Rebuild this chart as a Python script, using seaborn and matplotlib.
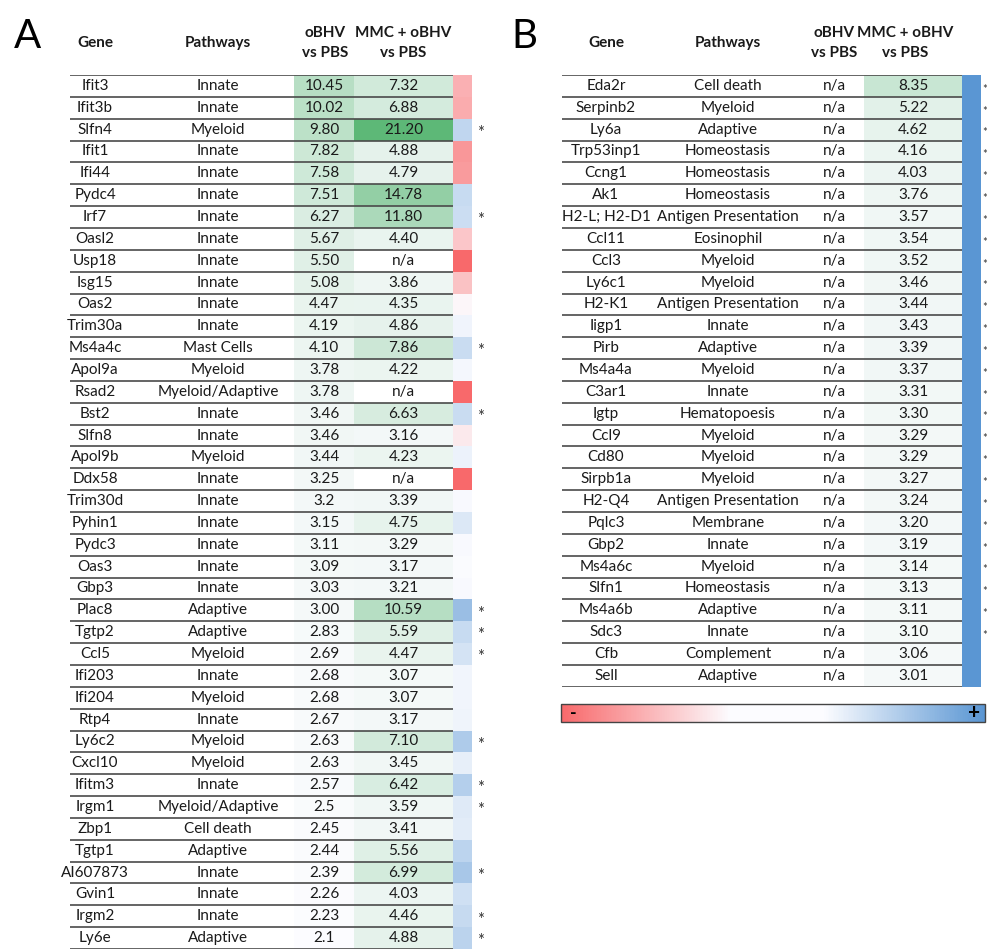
import numpy as np
import pandas as pd
import seaborn as sns
import matplotlib
matplotlib.use("Agg")
import matplotlib.pyplot as plt
from matplotlib.colors import LinearSegmentedColormap, TwoSlopeNorm, Normalize
from matplotlib.cm import ScalarMappable

sns.set_theme(style="white")
plt.rcParams['font.family'] = ['Lato', 'DejaVu Sans']

# ---------------- data ----------------
genes_a = ["Ifit3", "Ifit3b", "Slfn4", "Ifit1", "Ifi44", "Pydc4", "Irf7", "Oasl2", "Usp18", "Isg15",
           "Oas2", "Trim30a", "Ms4a4c", "Apol9a", "Rsad2", "Bst2", "Slfn8", "Apol9b", "Ddx58", "Trim30d",
           "Pyhin1", "Pydc3", "Oas3", "Gbp3", "Plac8", "Tgtp2", "Ccl5", "Ifi203", "Ifi204", "Rtp4",
           "Ly6c2", "Cxcl10", "Ifitm3", "Irgm1", "Zbp1", "Tgtp1", "AI607873", "Gvin1", "Irgm2", "Ly6e"]
pathways_a = ["Innate", "Innate", "Myeloid", "Innate", "Innate", "Innate", "Innate", "Innate", "Innate", "Innate",
              "Innate", "Innate", "Mast Cells", "Myeloid", "Myeloid/Adaptive", "Innate", "Innate", "Myeloid", "Innate", "Innate",
              "Innate", "Innate", "Innate", "Innate", "Adaptive", "Adaptive", "Myeloid", "Innate", "Myeloid", "Innate",
              "Myeloid", "Myeloid", "Innate", "Myeloid/Adaptive", "Cell death", "Adaptive", "Innate", "Innate", "Innate", "Adaptive"]
obhv_a = ["10.45", "10.02", "9.80", "7.82", "7.58", "7.51", "6.27", "5.67", "5.50", "5.08",
          "4.47", "4.19", "4.10", "3.78", "3.78", "3.46", "3.46", "3.44", "3.25", "3.2",
          "3.15", "3.11", "3.09", "3.03", "3.00", "2.83", "2.69", "2.68", "2.68", "2.67",
          "2.63", "2.63", "2.57", "2.5", "2.45", "2.44", "2.39", "2.26", "2.23", "2.1"]
mmc_a = ["7.32", "6.88", "21.20", "4.88", "4.79", "14.78", "11.80", "4.40", "n/a", "3.86",
         "4.35", "4.86", "7.86", "4.22", "n/a", "6.63", "3.16", "4.23", "n/a", "3.39",
         "4.75", "3.29", "3.17", "3.21", "10.59", "5.59", "4.47", "3.07", "3.07", "3.17",
         "7.10", "3.45", "6.42", "3.59", "3.41", "5.56", "6.99", "4.03", "4.46", "4.88"]
star_a = ["Slfn4", "Irf7", "Ms4a4c", "Bst2", "Plac8", "Tgtp2", "Ccl5", "Ly6c2", "Ifitm3",
          "Irgm1", "AI607873", "Irgm2", "Ly6e"]

genes_b = ["Eda2r", "Serpinb2", "Ly6a", "Trp53inp1", "Ccng1", "Ak1", "H2-L; H2-D1", "Ccl11", "Ccl3", "Ly6c1",
           "H2-K1", "Iigp1", "Pirb", "Ms4a4a", "C3ar1", "Igtp", "Ccl9", "Cd80", "Sirpb1a", "H2-Q4",
           "Pqlc3", "Gbp2", "Ms4a6c", "Slfn1", "Ms4a6b", "Sdc3", "Cfb", "Sell"]
pathways_b = ["Cell death", "Myeloid", "Adaptive", "Homeostasis", "Homeostasis", "Homeostasis", "Antigen Presentation",
              "Eosinophil", "Myeloid", "Myeloid", "Antigen Presentation", "Innate", "Adaptive", "Myeloid", "Innate",
              "Hematopoesis", "Myeloid", "Myeloid", "Myeloid", "Antigen Presentation", "Membrane", "Innate", "Myeloid",
              "Homeostasis", "Adaptive", "Innate", "Complement", "Adaptive"]
obhv_b = ["n/a"] * 28
mmc_b = ["8.35", "5.22", "4.62", "4.16", "4.03", "3.76", "3.57", "3.54", "3.52", "3.46",
         "3.44", "3.43", "3.39", "3.37", "3.31", "3.30", "3.29", "3.29", "3.27", "3.24",
         "3.20", "3.19", "3.14", "3.13", "3.11", "3.10", "3.06", "3.01"]
star_b = genes_b[:26]

headers = ["Gene", "Pathways", "oBHV\nvs PBS", "MMC + oBHV\nvs PBS"]

# ---------------- helpers ----------------
def num(lst):
    return np.array([np.nan if s == "n/a" else float(s) for s in lst])

RED_LO, RED_HI = -1.0, 3.0  # colour-scale limits of the log2 change column

def change(ob, mm):
    o, m = num(ob), num(mm)
    r = np.log2(m / o)
    r = np.where(np.isnan(m) & ~np.isnan(o), RED_LO, r)
    r = np.where(np.isnan(o) & ~np.isnan(m), RED_HI, r)
    return r

all_vals = np.concatenate([num(obhv_a), num(mmc_a), num(mmc_b)])
GMIN, GMAX = np.nanmin(all_vals), np.nanmax(all_vals)

green = LinearSegmentedColormap.from_list("g", ["#FCFCFF", "#5DB877"])
div = LinearSegmentedColormap.from_list("d", ["#F8696B", "#FCFCFF", "#5A96D3"])
div_norm = TwoSlopeNorm(vmin=RED_LO, vcenter=0.0, vmax=RED_HI)

W, H = 989, 951
fig = plt.figure(figsize=(W / 100, H / 100), dpi=100)
fig.patch.set_facecolor("white")

def px_axes(x0, x1, y0, y1):
    return fig.add_axes([x0 / W, 1 - y1 / H, (x1 - x0) / W, (y1 - y0) / H])

TXT = "#1a1a1a"
FS = 11

def value_column(x0, x1, y0, y1, labels):
    vals = num(labels)
    if np.all(np.isnan(vals)):
        return
    ax = px_axes(x0, x1, y0, y1)
    df = pd.DataFrame({"v": vals})
    annot = np.array([[s] for s in labels])
    sns.heatmap(df, ax=ax, cmap=green, vmin=GMIN, vmax=GMAX, cbar=False,
                mask=df.isna(), annot=annot, fmt="",
                annot_kws={"fontsize": FS, "color": TXT},
                xticklabels=False, yticklabels=False)
    ax.set_xlabel(""); ax.set_ylabel("")

def change_column(x0, x1, y0, y1, ob, mm):
    ax = px_axes(x0, x1, y0, y1)
    df = pd.DataFrame({"c": change(ob, mm)})
    sns.heatmap(df, ax=ax, cmap=div, norm=div_norm, cbar=False,
                xticklabels=False, yticklabels=False)
    ax.set_xlabel(""); ax.set_ylabel("")

def panel(letter, lx, genes, paths, ob, mm, stars, cols, line_x, val_x, chg_x, star_x, star_fs,
          ov_x, y0, row_h):
    n = len(genes)
    y1 = y0 + n * row_h
    value_column(val_x[0], val_x[1], y0, y1, ob)
    value_column(val_x[1], val_x[2], y0, y1, mm)
    change_column(chg_x[0], chg_x[1], y0, y1, ob, mm)
    ov = px_axes(ov_x[0], ov_x[1], y0, y1)
    ov.set_xlim(ov_x[0], ov_x[1]); ov.set_ylim(n, 0)
    ov.axis("off"); ov.patch.set_alpha(0)
    ys = np.arange(n) + 0.5
    for i in range(n):
        ov.text(cols[0], ys[i], genes[i], ha="center", va="center", fontsize=FS, color=TXT)
        ov.text(cols[1], ys[i], paths[i], ha="center", va="center", fontsize=FS, color=TXT)
        if ob[i] == "n/a":
            ov.text(cols[2], ys[i], "n/a", ha="center", va="center", fontsize=FS, color=TXT)
        if mm[i] == "n/a":
            ov.text(cols[3], ys[i], "n/a", ha="center", va="center", fontsize=FS, color=TXT)
        if genes[i] in stars:
            ov.text(star_x, ys[i] + 0.15, "*", ha="center", va="center", fontsize=star_fs,
                    color="#333333", clip_on=False)
    ov.hlines(np.arange(n + 1), line_x[0], line_x[1], colors="#4a4a4a", linewidth=1.2)
    for x, h in zip(cols, headers):
        fig.text(x / W, 1 - 43 / H, h, ha="center", va="center", fontsize=FS,
                 fontweight="bold", color=TXT, linespacing=1.55)
    fig.text(lx / W, 1 - 36 / H, letter, ha="center", va="center", fontsize=29, color="black")

ROW_H = 21.85
panel("A", 27, genes_a, pathways_a, obhv_a, mmc_a, star_a,
      cols=[95, 218, 325, 403], line_x=[70, 453], val_x=[294, 354, 453],
      chg_x=[453, 472], star_x=481, star_fs=12, ov_x=[60, 500], y0=75, row_h=ROW_H)
panel("B", 524, genes_b, pathways_b, obhv_b, mmc_b, star_b,
      cols=[606, 728, 834, 905], line_x=[562, 962], val_x=[805, 864, 962],
      chg_x=[962, 981], star_x=985, star_fs=8, ov_x=[555, 989], y0=75, row_h=ROW_H)

# legend bar
leg_cmap = LinearSegmentedColormap.from_list(
    "leg", [(0.0, "#F8696B"), (0.40, "#FCFCFF"), (0.62, "#FCFCFF"), (1.0, "#5A96D3")])
cax = px_axes(561, 985, 704, 722)
cb = fig.colorbar(ScalarMappable(norm=Normalize(0, 1), cmap=leg_cmap), cax=cax, orientation="horizontal")
cb.set_ticks([])
cb.outline.set_edgecolor("#444444")
cb.outline.set_linewidth(1.0)
cax.text(0.03, 0.5, "-", transform=cax.transAxes, ha="center", va="center", fontsize=13,
         fontweight="bold", color="black")
cax.text(0.975, 0.5, "+", transform=cax.transAxes, ha="center", va="center", fontsize=15,
         fontweight="bold", color="black")

fig.savefig("out.png", dpi=100, facecolor="white")
